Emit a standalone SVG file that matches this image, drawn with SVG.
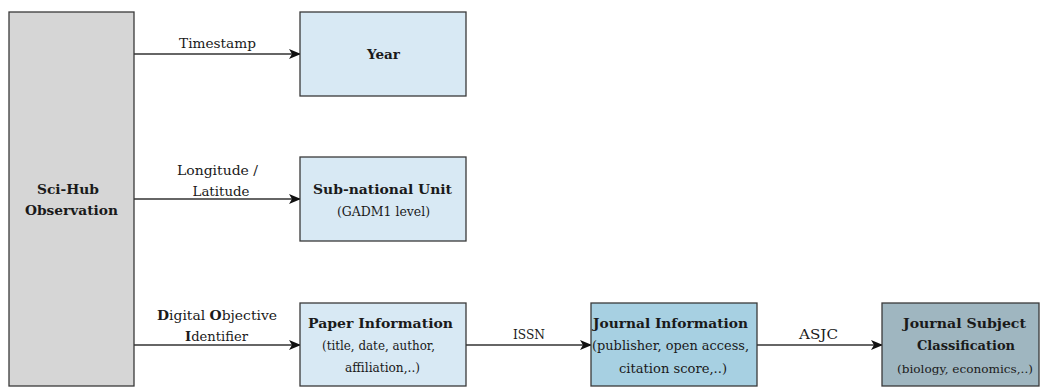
<svg xmlns="http://www.w3.org/2000/svg" width="1041" height="388" viewBox="0 0 1041 388">
<style>
.box{stroke:#3a3a3a;stroke-width:1.3}
text{font-family:'DejaVu Serif','Liberation Serif','Times New Roman',serif;fill:#1a1a1a;text-anchor:middle}
.b{font-weight:bold;font-size:13.5px}
.s{font-size:12.5px}
.l{font-size:13px}
.conn{stroke:#333;stroke-width:1.3;fill:none;marker-end:url(#arr)}
</style>
<defs>
<marker id="arr" viewBox="0 0 12 10" refX="11" refY="5" markerWidth="12" markerHeight="10" markerUnits="userSpaceOnUse" orient="auto">
<path d="M0,0 L12,5 L0,10 L3,5 Z" fill="#111"/>
</marker>
</defs>
<g id="connectors">
<line class="conn" x1="134" y1="54" x2="300" y2="54"/>
<line class="conn" x1="134" y1="199" x2="300" y2="199"/>
<line class="conn" x1="134" y1="345" x2="300" y2="345"/>
<line class="conn" x1="466" y1="345" x2="591" y2="345"/>
<line class="conn" x1="757" y1="345" x2="882" y2="345"/>
<text class="l" x="217.5" y="48" textLength="77" lengthAdjust="spacingAndGlyphs">Timestamp</text>
<text class="l" x="217.5" y="175" textLength="81" lengthAdjust="spacingAndGlyphs">Longitude /</text>
<text class="l" x="221" y="196" textLength="57" lengthAdjust="spacingAndGlyphs">Latitude</text>
<text class="l" x="217" y="320" textLength="120" lengthAdjust="spacingAndGlyphs"><tspan font-weight="bold">D</tspan>igital <tspan font-weight="bold">O</tspan>bjective</text>
<text class="l" x="216.5" y="341" textLength="63" lengthAdjust="spacingAndGlyphs"><tspan font-weight="bold">I</tspan>dentifier</text>
<text class="l" x="529" y="339" textLength="32" lengthAdjust="spacingAndGlyphs">ISSN</text>
<text class="l" x="818.5" y="339" textLength="39" lengthAdjust="spacingAndGlyphs">ASJC</text>
</g>
<g id="scihub">
<rect class="box" x="9" y="12" width="125" height="374" fill="#d6d6d6"/>
<text class="b" x="68" y="194" textLength="62" lengthAdjust="spacingAndGlyphs">Sci-Hub</text>
<text class="b" x="71.5" y="215" textLength="93" lengthAdjust="spacingAndGlyphs">Observation</text>
</g>
<g id="year">
<rect class="box" x="300" y="12" width="166" height="84" fill="#d8e9f4"/>
<text class="b" x="383.5" y="58.5" textLength="33" lengthAdjust="spacingAndGlyphs">Year</text>
</g>
<g id="subnational">
<rect class="box" x="300" y="157" width="166" height="84" fill="#d8e9f4"/>
<text class="b" x="382.5" y="194" textLength="139" lengthAdjust="spacingAndGlyphs">Sub-national Unit</text>
<text class="s" x="383.5" y="216" textLength="93" lengthAdjust="spacingAndGlyphs">(GADM1 level)</text>
</g>
<g id="paper">
<rect class="box" x="300" y="303" width="166" height="83" fill="#d8e9f4"/>
<text class="b" x="380.5" y="328" textLength="145" lengthAdjust="spacingAndGlyphs">Paper Information</text>
<text class="s" x="378.5" y="350" textLength="113" lengthAdjust="spacingAndGlyphs">(title, date, author,</text>
<text class="s" x="382.5" y="372" textLength="75" lengthAdjust="spacingAndGlyphs">affiliation,..)</text>
</g>
<g id="journal">
<rect class="box" x="591" y="303" width="166" height="83" fill="#a7d0e2"/>
<text class="b" x="670.5" y="328" textLength="155" lengthAdjust="spacingAndGlyphs">Journal Information</text>
<text class="s" x="670.5" y="350" textLength="157" lengthAdjust="spacingAndGlyphs">(publisher, open access,</text>
<text class="s" x="673" y="373" textLength="108" lengthAdjust="spacingAndGlyphs">citation score,..)</text>
</g>
<g id="subject">
<rect class="box" x="882" y="303" width="157" height="83" fill="#9fb6c0"/>
<text class="b" x="964.5" y="328" textLength="123" lengthAdjust="spacingAndGlyphs">Journal Subject</text>
<text class="b" x="966" y="350" textLength="98" lengthAdjust="spacingAndGlyphs">Classification</text>
<text x="965" y="373" font-size="11.5px" textLength="136" lengthAdjust="spacingAndGlyphs">(biology, economics,..)</text>
</g>
</svg>
